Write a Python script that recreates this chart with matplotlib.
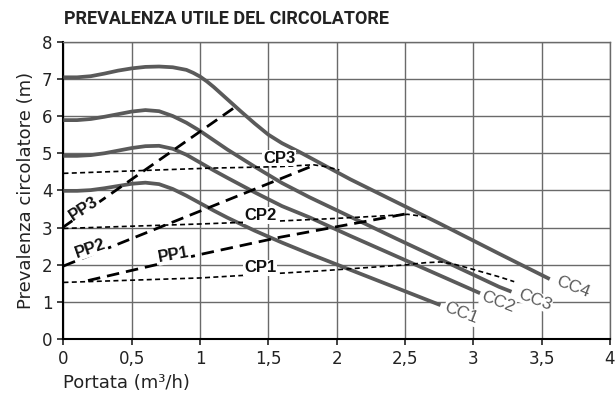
import numpy as np
import matplotlib
matplotlib.use("Agg")
import matplotlib.pyplot as plt

# curve caratteristiche circolatore (portata m3/h, prevalenza m)
cc4_x = [0, 0.1, 0.2, 0.3, 0.4, 0.5, 0.6, 0.7, 0.8, 0.9, 0.95, 1.0, 1.05, 1.1,
         1.2, 1.3, 1.4, 1.5, 1.6, 1.73, 2.1, 2.75, 3.19, 3.56]
cc4_y = [7.04, 7.04, 7.07, 7.14, 7.22, 7.28, 7.32, 7.33, 7.31, 7.24, 7.16, 7.06,
         6.93, 6.78, 6.45, 6.12, 5.8, 5.5, 5.27, 5.03, 4.3, 3.12, 2.3, 1.62]
cc3_x = [0, 0.1, 0.2, 0.3, 0.4, 0.5, 0.6, 0.7, 0.8, 0.9, 1.0, 1.1, 1.2, 1.4,
         1.6, 1.8, 2.44, 3.19, 3.28]
cc3_y = [5.89, 5.89, 5.92, 5.98, 6.05, 6.12, 6.16, 6.13, 6.0, 5.82, 5.6, 5.35,
         5.1, 4.64, 4.2, 3.82, 2.7, 1.41, 1.28]
cc2_x = [0, 0.1, 0.2, 0.3, 0.4, 0.5, 0.6, 0.7, 0.8, 0.9, 1.0, 1.1, 1.2, 1.4,
         1.6, 1.8, 2.1, 3.05]
cc2_y = [4.93, 4.93, 4.95, 5.0, 5.07, 5.14, 5.19, 5.2, 5.12, 4.96, 4.75, 4.54,
         4.34, 3.95, 3.58, 3.28, 2.78, 1.24]
cc1_x = [0, 0.1, 0.2, 0.3, 0.4, 0.5, 0.6, 0.7, 0.8, 0.9, 1.0, 1.1, 1.2, 1.4,
         1.6, 1.8, 2.76]
cc1_y = [3.99, 3.99, 4.01, 4.06, 4.12, 4.18, 4.21, 4.17, 4.04, 3.86, 3.66, 3.46,
         3.27, 2.92, 2.6, 2.3, 0.92]

# pressione costante
cp3_x = [0, 1.07, 1.58, 1.83, 1.92, 2.02]
cp3_y = [4.46, 4.6, 4.64, 4.69, 4.64, 4.55]
cp2_x = [0, 1.0, 1.58, 2.0, 2.4, 2.52, 2.6, 2.66]
cp2_y = [2.98, 3.1, 3.18, 3.25, 3.33, 3.36, 3.32, 3.27]
cp1_x = [0, 1.0, 1.88, 2.5, 2.65, 2.76, 2.85, 2.97, 3.19, 3.3]
cp1_y = [1.53, 1.65, 1.84, 2.0, 2.06, 2.08, 2.03, 1.91, 1.68, 1.55]

# pressione proporzionale
pp3_x = [0, 1.28]
pp3_y = [3.02, 6.3]
pp2_x = [0, 1.83]
pp2_y = [1.97, 4.67]
pp1_x = [0.18, 1.0, 1.58, 2.52]
pp1_y = [1.58, 2.28, 2.74, 3.38]

cc_labels = ["CC1", "CC2", "CC3", "CC4"]
cc_lab_x = [2.91, 3.18, 3.45, 3.73]
cc_lab_y = [0.7, 1.0, 1.07, 1.41]

x_ticks = [0, 0.5, 1, 1.5, 2, 2.5, 3, 3.5, 4]
x_ticklabels = ["0", "0,5", "1", "1,5", "2", "2,5", "3", "3,5", "4"]
y_ticks = list(range(0, 9))

fig = plt.figure(figsize=(6.16, 3.96), dpi=100)
ax = fig.add_axes([0.103, 0.143, 0.887, 0.752])

grey = "#5a5a5a"
for xs, ys in [(cc1_x, cc1_y), (cc2_x, cc2_y), (cc3_x, cc3_y), (cc4_x, cc4_y)]:
    ax.plot(xs, ys, color=grey, lw=2.7, solid_capstyle="butt",
            solid_joinstyle="round", zorder=3)

for xs, ys in [(cp1_x, cp1_y), (cp2_x, cp2_y), (cp3_x, cp3_y)]:
    ax.plot(xs, ys, color="black", lw=1.2, dashes=(3, 2), zorder=4)

for xs, ys in [(pp1_x, pp1_y), (pp2_x, pp2_y), (pp3_x, pp3_y)]:
    ax.plot(xs, ys, color="black", lw=2.0, dashes=(4.5, 2.5), zorder=4)

box = dict(facecolor="white", edgecolor="none", pad=0.5)
lab = dict(fontsize=12, fontweight="bold", family="Liberation Sans",
           color="#111111", ha="center", va="center", rotation_mode="anchor",
           zorder=5, bbox=box)
ax.text(0.15, 3.52, "PP3", rotation=33, **lab)
ax.text(0.2, 2.45, "PP2", rotation=19, **lab)
ax.text(0.81, 2.27, "PP1", rotation=10, **lab)
ax.text(1.58, 4.87, "CP3", **lab)
ax.text(1.44, 3.33, "CP2", **lab)
ax.text(1.44, 1.92, "CP1", **lab)

for t, tx, ty in zip(cc_labels, cc_lab_x, cc_lab_y):
    ax.text(tx, ty, t, rotation=-21, fontsize=12.5, color=grey,
            family="Liberation Sans", ha="center", va="center",
            rotation_mode="anchor", zorder=5, bbox=box)

ax.set_xlim(0, 4)
ax.set_ylim(0, 8)
ax.set_xticks(x_ticks)
ax.set_xticklabels(x_ticklabels)
ax.set_yticks(y_ticks)
ax.grid(True, color="#6a6a6a", lw=1.0, zorder=1)
ax.set_axisbelow(True)

for s in ["top", "right"]:
    ax.spines[s].set_color("#6a6a6a")
    ax.spines[s].set_linewidth(1.0)
for s in ["left", "bottom"]:
    ax.spines[s].set_color("black")
    ax.spines[s].set_linewidth(1.5)
ax.tick_params(direction="out", length=4, width=1.2, labelsize=12, pad=4,
               colors="#222222")

ax.set_xlabel("Portata (m³/h)", fontsize=13, color="#222222", loc="left",
              labelpad=4)
ax.set_ylabel("Prevalenza circolatore (m)", fontsize=13, color="#222222",
              labelpad=5)

fig.text(0.104, 0.952, "PREVALENZA UTILE DEL CIRCOLATORE", fontsize=13,
         fontweight="bold", family="Roboto", color="#222222",
         ha="left", va="center")

fig.savefig("out.png", dpi=100)
